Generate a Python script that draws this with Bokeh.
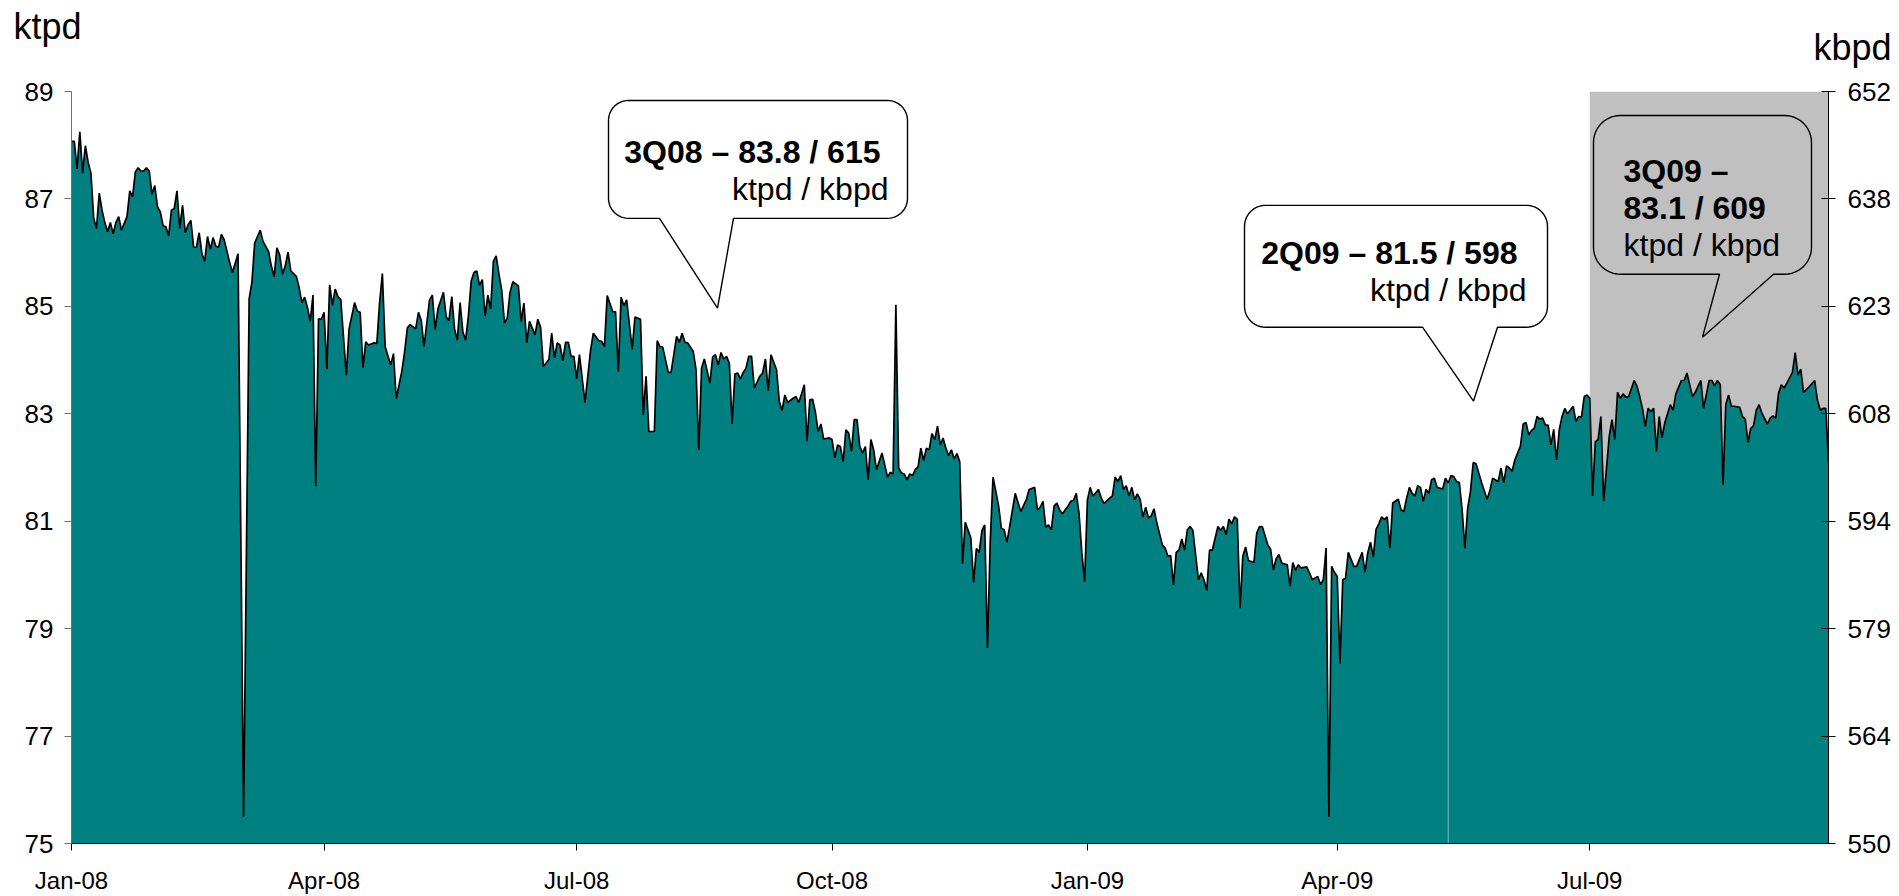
import math
import pandas as pd
from bokeh.plotting import figure
from bokeh.models import Range1d, FixedTicker, LinearAxis, DatetimeTickFormatter, Label, Title
from bokeh.embed import file_html
from bokeh.resources import INLINE

# ---------------- data ----------------
START_DATE = "2008-01-01"
END_DAY = 633                     # last day shown (offset from START_DATE)
SHADE_START = "2009-07-01"        # grey 3Q09 band
GAP_DAY = 496                     # thin light line (mid-May 2009)

day = [0,1,2,3,4,5,6,7,8,9,10,11,12,13,14,15,16,17,18,20,21,22,23,24,25,26,27,28,29,30,
       31,32,33,34,35,36,37,38,39,40,41,42,43,44,45,46,47,48,49,50,51,52,53,54,55,57,58,60,62,64,
       65,66,68,69,71,72,73,74,75,76,77,78,79,81,82,83,84,85,86,87,88,89,90,91,92,93,94,95,96,97,
       99,100,102,103,104,105,106,107,109,110,111,112,113,115,116,117,119,120,121,122,124,125,126,127,129,130,131,132,134,135,
       136,137,138,139,140,141,142,143,144,145,146,147,148,149,150,151,152,153,154,155,156,157,158,159,161,162,163,164,165,167,
       168,169,170,172,173,174,175,176,177,178,179,180,181,182,183,185,187,188,190,191,192,193,195,196,197,198,199,200,202,203,
       205,206,207,208,210,211,212,213,215,216,217,218,219,220,221,222,224,225,226,227,228,230,231,232,233,234,235,236,237,238,
       239,240,241,242,243,244,245,246,248,249,250,251,252,254,255,256,257,258,260,261,262,263,264,265,266,267,268,269,270,271,
       273,274,275,276,277,278,279,280,281,282,283,284,285,286,287,288,289,290,292,294,295,296,297,298,299,300,301,302,303,304,
       305,306,307,308,309,310,311,312,313,314,315,316,317,318,319,320,321,322,324,325,326,327,328,329,330,331,332,334,335,336,
       337,338,340,342,344,345,347,348,349,350,351,352,353,354,355,356,357,359,360,361,362,363,364,365,366,367,368,370,371,372,
       374,375,376,377,378,379,380,381,382,383,384,385,386,387,388,389,390,391,393,394,395,396,397,398,399,400,401,402,403,404,
       406,407,408,409,410,411,413,414,415,416,417,418,419,420,421,422,423,424,426,427,428,429,431,432,433,434,435,436,438,439,
       440,441,442,443,445,446,447,449,450,451,452,453,454,455,456,457,458,459,460,462,463,465,466,467,468,469,470,471,472,473,
       474,475,476,478,479,480,481,482,483,484,485,486,487,488,489,490,491,492,494,495,496,497,498,499,500,501,502,503,504,505,
       506,508,510,511,512,514,515,516,517,518,519,520,522,523,524,525,526,527,528,529,530,531,532,533,534,535,536,537,538,539,
       540,541,542,543,544,545,546,547,548,549,550,551,552,554,555,556,557,558,559,560,561,563,564,565,566,567,568,569,570,571,
       572,573,574,576,577,578,580,581,582,584,585,587,588,590,591,592,593,594,595,596,597,598,599,601,602,603,604,605,606,607,
       608,609,611,612,613,614,615,616,617,618,620,621,622,623,624,626,628,629,630,631,632,633]

ktpd = [88.07,88.07,87.56,88.25,87.48,87.99,87.68,87.48,86.64,86.45,87.11,86.79,86.56,86.39,86.56,86.35,86.56,86.67,86.42,86.67,87.15,87.04,87.50,87.58,87.52,87.52,87.58,87.52,87.09,87.25,
        86.85,86.76,86.50,86.48,86.31,86.79,86.82,87.15,86.45,86.88,86.37,86.52,86.60,86.10,86.10,86.37,85.98,85.84,86.30,86.06,86.28,86.12,86.10,86.34,86.24,85.81,85.63,85.98,75.50,85.14,
        85.45,86.18,86.42,86.21,86.02,85.75,85.55,86.09,85.96,85.60,85.75,86.01,85.66,85.56,85.35,85.07,85.17,84.98,84.72,85.21,81.65,84.77,84.76,84.89,83.83,85.40,85.02,85.32,85.18,85.13,
        83.72,84.58,85.07,84.91,84.89,83.86,84.34,84.28,84.32,84.31,85.07,85.61,84.25,83.91,84.12,83.28,83.79,84.15,84.60,84.66,84.58,84.89,84.74,84.25,85.12,85.21,84.57,84.95,85.26,84.80,
        84.74,85.18,84.58,84.37,85.07,84.52,84.37,84.83,85.47,85.63,85.66,85.39,85.50,84.82,85.21,84.95,85.84,85.94,85.60,85.30,84.69,84.78,85.26,85.46,85.38,84.72,85.06,84.32,84.72,84.47,
        84.76,84.61,83.88,84.01,84.50,84.04,84.32,84.28,83.99,84.33,84.33,84.07,84.07,83.65,84.10,83.21,84.18,84.50,84.36,84.35,84.25,85.20,84.90,84.90,83.79,85.17,85.01,85.12,84.20,84.80,
        84.76,82.98,83.70,82.67,82.67,84.36,84.25,84.24,83.77,83.77,84.10,84.44,84.33,84.50,84.33,84.32,84.16,83.82,82.33,83.85,84.02,83.57,84.06,84.10,83.91,84.14,84.02,84.07,83.94,82.81,
        83.74,83.76,83.65,83.77,83.85,84.07,84.07,83.48,83.70,83.76,84.02,83.43,84.10,83.82,83.23,83.06,83.35,83.21,83.29,83.32,83.21,83.37,83.54,82.49,83.26,83.27,83.03,82.67,82.81,82.53,
        82.55,82.52,82.18,82.42,82.39,82.11,82.70,82.64,82.30,82.89,82.89,82.39,82.27,82.39,81.77,82.52,82.33,81.96,82.27,81.82,81.91,81.88,85.03,81.99,81.90,81.88,81.77,81.88,81.85,81.96,
        82.01,82.36,82.13,82.36,82.33,82.63,82.52,82.77,82.42,82.55,82.36,82.22,82.33,82.16,82.26,82.11,80.21,80.98,80.69,79.86,80.49,80.42,80.82,80.93,78.64,80.62,81.82,81.29,80.87,80.84,
        80.61,80.90,81.52,81.18,81.40,81.59,81.63,81.21,81.26,81.37,80.89,80.93,80.84,81.28,81.34,81.21,81.14,81.28,81.37,81.39,81.52,81.14,80.41,79.88,81.39,81.63,81.47,81.59,81.43,81.33,
        81.43,81.47,81.82,81.74,81.85,81.59,81.66,81.47,81.63,81.40,81.51,81.41,81.08,81.26,81.06,81.10,81.23,80.97,80.56,80.50,80.35,80.36,79.82,80.42,80.46,80.67,80.46,80.84,80.90,80.83,
        79.91,80.04,79.91,79.71,80.46,80.46,80.90,80.83,80.90,80.75,81.04,80.95,81.08,81.04,79.38,80.35,80.52,80.27,80.23,80.78,80.90,80.90,80.56,80.48,80.09,80.30,80.38,80.22,80.19,79.79,
        80.23,80.09,80.19,80.13,80.15,80.04,79.91,79.97,79.82,79.91,80.50,75.50,80.16,80.05,79.97,78.35,79.91,79.94,80.42,80.16,80.16,80.42,80.05,80.41,80.61,80.33,80.85,80.95,81.08,81.03,
        81.08,80.50,81.34,81.41,81.21,81.18,81.43,81.63,81.52,81.47,81.66,81.63,81.37,81.59,81.52,81.77,81.80,81.63,81.60,81.80,81.71,81.85,81.83,81.74,81.72,81.21,80.50,81.24,81.55,82.09,
        82.07,81.72,81.41,81.57,81.80,81.74,81.99,81.72,82.03,81.99,81.93,82.14,82.40,82.81,82.84,82.61,82.69,82.73,82.95,82.90,82.92,82.79,82.79,82.42,82.71,82.14,82.70,82.95,83.10,83.00,
        83.07,83.14,82.86,82.95,82.94,83.32,83.35,83.29,81.47,82.48,82.52,82.95,81.37,82.58,82.89,82.52,83.40,83.29,83.37,83.31,83.32,83.62,83.51,83.32,83.09,82.76,83.10,83.04,83.10,82.30,
        82.95,82.55,82.83,83.17,83.07,83.37,83.62,83.62,83.76,83.32,83.40,83.62,83.10,83.62,83.62,83.52,83.62,83.54,81.68,83.17,83.35,83.14,83.14,83.12,82.95,82.90,82.47,82.73,82.78,83.07,
        83.17,83.01,82.81,82.92,82.96,82.92,83.38,83.54,83.48,83.57,83.77,84.14,83.72,83.83,83.40,83.50,83.62,83.26,83.07,83.10,83.10,82.11]

y_ticks = [75, 77, 79, 81, 83, 85, 87, 89]
kbpd_labels = ["550", "564", "579", "594", "608", "623", "638", "652"]
x_tick_dates = ["2008-01-01", "2008-04-01", "2008-07-01", "2008-10-01",
                "2009-01-01", "2009-04-01", "2009-07-01"]

callouts = [
    dict(box=(608, 907, 100, 218), r=20, base=(659, 733), tip=(717, 308), fill="white",
         texts=[("3Q08 – 83.8 / 615", 880, 152, "right", "bold"),
                ("ktpd / kbpd", 888, 189, "right", "normal")]),
    dict(box=(1244, 1547, 205, 327), r=21, base=(1422, 1497), tip=(1473, 401), fill="white",
         texts=[("2Q09 – 81.5 / 598", 1517, 253, "right", "bold"),
                ("ktpd / kbpd", 1526, 290, "right", "normal")]),
    dict(box=(1593, 1811, 115, 274), r=27, base=(1719, 1773), tip=(1702, 337), fill="#C0C0C0",
         texts=[("3Q09 –", 1623, 171, "left", "bold"),
                ("83.1 / 609", 1623, 208, "left", "bold"),
                ("ktpd / kbpd", 1623, 245, "left", "normal")]),
]

# ---------------- helpers ----------------
DAY_MS = 86400000.0
start_ms = pd.Timestamp(START_DATE).value / 1e6
def d2ms(d):
    return start_ms + d * DAY_MS
def date_ms(s):
    return pd.Timestamp(s).value / 1e6

x_ms = [d2ms(d) for d in day]
x_end = d2ms(END_DAY)

W, H = 1899, 896
FL, FR, FT, FB = 71, 1828, 91, 844      # plot frame in page pixels
def px_x(sx):
    return start_ms + (sx - FL) / (FR - FL) * END_DAY * DAY_MS
def px_y(sy):
    return 75 + (FB - sy) / (FB - FT) * 14

FONT = "Liberation Sans"

p = figure(width=W, height=H, x_axis_type="datetime",
           x_range=Range1d(start_ms, x_end), y_range=Range1d(75, 89),
           title=None, output_backend="svg", toolbar_location=None,
           min_border_left=FL, min_border_right=W - FR,
           min_border_top=FT, min_border_bottom=H - FB)
p.outline_line_color = None
p.grid.visible = False
p.background_fill_color = "white"

p.quad(left=[date_ms(SHADE_START)], right=[x_end], bottom=[75], top=[89],
       fill_color="#C0C0C0", line_color=None)

p.varea(x=x_ms, y1=[75] * len(x_ms), y2=ktpd, fill_color="#008080")
gap_val = ktpd[day.index(GAP_DAY)]
p.segment(x0=[d2ms(GAP_DAY)], y0=[75], x1=[d2ms(GAP_DAY)], y1=[gap_val],
          line_color="#7fb8b8", line_width=1)
p.line(x_ms, ktpd, line_color="black", line_width=1.7)

for c in callouts:
    l, r, t, b = c["box"]
    rad = c["r"]
    pts = []
    def arc(cx, cy, a0, a1):
        for k in range(13):
            a = math.radians(a0 + (a1 - a0) * k / 12)
            pts.append((cx + rad * math.cos(a), cy + rad * math.sin(a)))
    arc(l + rad, t + rad, 180, 270)
    arc(r - rad, t + rad, 270, 360)
    arc(r - rad, b - rad, 0, 90)
    pts.append((c["base"][1], b))
    pts.append(c["tip"])
    pts.append((c["base"][0], b))
    arc(l + rad, b - rad, 90, 180)
    p.patch([px_x(x) for x, _ in pts], [px_y(y) for _, y in pts],
            fill_color=c["fill"], line_color="black", line_width=1.4)
    for txt, sx, sy, al, st in c["texts"]:
        p.add_layout(Label(x=px_x(sx), y=px_y(sy), text=txt, text_font=FONT,
                           text_font_size="32px", text_font_style=st, text_color="black",
                           text_align=al, text_baseline="alphabetic"))

# unit titles (above panel; kbpd nearest to the frame)
t_kbpd = Title(text="kbpd", align="left", offset=1742, standoff=48,
               text_font=FONT, text_font_size="36px", text_font_style="normal",
               text_color="black")
t_ktpd = Title(text="ktpd", align="left", offset=-58, standoff=-92.6,
               text_font=FONT, text_font_size="36px", text_font_style="normal",
               text_color="black")
p.add_layout(t_kbpd, "above")
p.add_layout(t_ktpd, "above")

# x axis
xa = p.xaxis[0]
xa.ticker = FixedTicker(ticks=[date_ms(s) for s in x_tick_dates])
xa.formatter = DatetimeTickFormatter(days="%b-%y", months="%b-%y", years="%b-%y",
                                     hours="%b-%y", minutes="%b-%y")
xa.major_tick_in = 0
xa.major_tick_out = 7
xa.minor_tick_in = 0
xa.minor_tick_out = 0
xa.axis_line_color = "black"
xa.major_tick_line_color = "black"
xa.major_label_text_font = FONT
xa.major_label_text_font_size = "24px"
xa.major_label_text_color = "black"
xa.major_label_standoff = 16

ya = p.yaxis[0]
ya.ticker = FixedTicker(ticks=y_ticks)
ya.major_tick_in = 0
ya.major_tick_out = 7
ya.minor_tick_in = 0
ya.minor_tick_out = 0
ya.axis_line_color = "#707070"
ya.major_tick_line_color = "#707070"
ya.major_label_text_font = FONT
ya.major_label_text_font_size = "26px"
ya.major_label_text_color = "black"
ya.major_label_standoff = 11

ra = LinearAxis(ticker=FixedTicker(ticks=y_ticks),
                major_label_overrides={t: lab for t, lab in zip(y_ticks, kbpd_labels)})
ra.major_tick_in = 7
ra.major_tick_out = 7
ra.minor_tick_in = 0
ra.minor_tick_out = 0
ra.axis_line_color = "black"
ra.major_tick_line_color = "black"
ra.major_label_text_font = FONT
ra.major_label_text_font_size = "26px"
ra.major_label_text_color = "black"
ra.major_label_standoff = 12
p.add_layout(ra, "right")

open("out.html", "w").write(file_html(p, INLINE, "ktpd / kbpd"))
